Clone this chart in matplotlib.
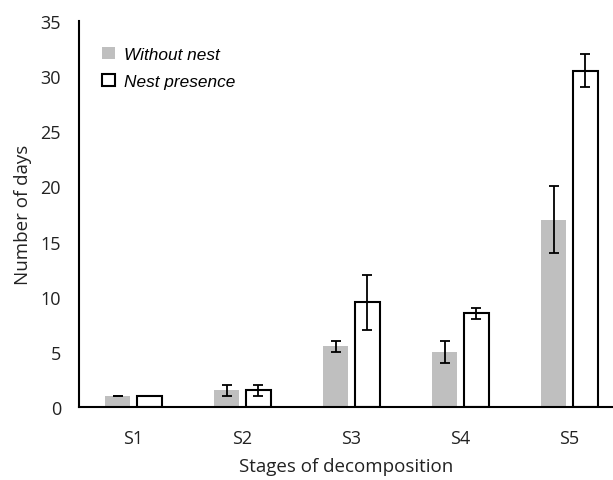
import matplotlib
matplotlib.use("Agg")
import matplotlib.pyplot as plt
import numpy as np

stages = ["S1", "S2", "S3", "S4", "S5"]
without_nest = [1, 1.5, 5.5, 5, 17]
without_err = [0, 0.5, 0.5, 1, 3]
nest_presence = [1, 1.5, 9.5, 8.5, 30.5]
nest_err = [0, 0.5, 2.5, 0.5, 1.5]

x = np.arange(len(stages))
w = 0.23
off = 0.145

fig = plt.figure(figsize=(6.13, 4.81), dpi=100)
ax = fig.add_axes([0.129, 0.152, 0.871, 0.802])

ax.bar(x - off, without_nest, w, color="#bfbfbf", label="Without nest")
ax.errorbar(x - off, without_nest, yerr=without_err, fmt="none", ecolor="black",
            elinewidth=1.3, capsize=3.5, capthick=1.3)
ax.bar(x + off, nest_presence, w, color="white", edgecolor="black", linewidth=1.5,
       label="Nest presence")
ax.errorbar(x + off, nest_presence, yerr=nest_err, fmt="none", ecolor="black",
            elinewidth=1.3, capsize=3.5, capthick=1.3)

ax.set_xlim(-0.5, 4.4)
ax.set_ylim(0, 35)
ax.set_yticks(range(0, 36, 5))
ax.set_xticks(x)
ax.set_xticklabels(stages)
ax.tick_params(axis="y", length=0, labelsize=13, pad=13)
ax.tick_params(axis="x", length=0, labelsize=13, pad=16)
for lab in ax.get_xticklabels() + ax.get_yticklabels():
    lab.set_family("Open Sans")
    lab.set_color("#222222")
ax.spines["top"].set_visible(False)
ax.spines["right"].set_visible(False)
ax.spines["left"].set_linewidth(1.5)
ax.spines["bottom"].set_linewidth(1.5)

ax.set_ylabel("Number of days", fontsize=13.5, family="Open Sans", labelpad=6, color="#222222")
ax.set_xlabel("Stages of decomposition", fontsize=13.5, family="Open Sans", labelpad=7, color="#222222")

leg = ax.legend(loc="upper left", bbox_to_anchor=(0.043, 0.934), frameon=False,
                borderpad=0, borderaxespad=0,
                prop={"family": "Liberation Sans", "style": "italic", "size": 12.4},
                handlelength=0.75, handleheight=0.75, handletextpad=0.5, labelspacing=0.68)

fig.savefig("out.png", dpi=100)
